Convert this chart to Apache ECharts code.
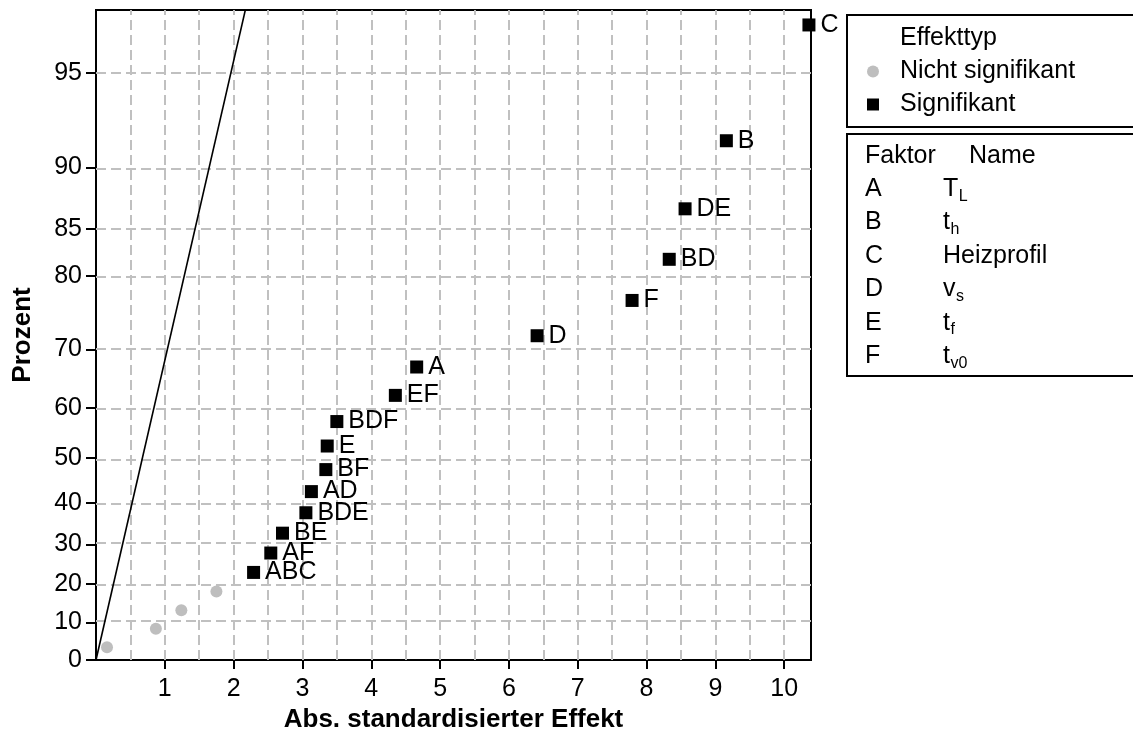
<!DOCTYPE html>
<html>
<head>
<meta charset="utf-8">
<script src="https://cdn.jsdelivr.net/npm/echarts@6/dist/echarts.min.js"></script>
<style>
  html, body { margin: 0; padding: 0; background: #fff; }
  #chart { width: 1133px; height: 731px; }
</style>
</head>
<body>
<div id="chart"></div>
<script>
// Half-normal plot of the standardized effects (absolute values)

// Significant terms
const termNames    = ['ABC', 'AF', 'BE', 'BDE', 'AD', 'BF', 'E', 'BDF', 'EF', 'A', 'D', 'F', 'BD', 'DE', 'B', 'C'];
const termEffects  = [2.29, 2.54, 2.71, 3.05, 3.13, 3.34, 3.36, 3.50, 4.35, 4.66, 6.41, 7.79, 8.33, 8.56, 9.16, 10.36];
const termPercents = [23.0, 27.9, 32.8, 37.7, 42.6, 47.5, 52.5, 57.4, 62.3, 67.2, 72.1, 77.0, 81.9, 86.8, 91.7, 96.6];

// Non-significant terms
const minorEffects  = [0.16, 0.87, 1.24, 1.75];
const minorPercents = [3.4, 8.3, 13.2, 18.1];

// Reference line (effect = half-normal score), drawn between these effect values
const lineEffects = [0, 2.3];

// Axis ticks
const yTickPercents = [0, 10, 20, 30, 40, 50, 60, 70, 80, 85, 90, 95];
const yTickLabels   = ['0', '10', '20', '30', '40', '50', '60', '70', '80', '85', '90', '95'];
const yGridPercents = [10, 20, 30, 40, 50, 60, 70, 80, 85, 90, 95];
const xTickValues   = [1, 2, 3, 4, 5, 6, 7, 8, 9, 10];
const xGridValues   = [0.5, 1, 1.5, 2, 2.5, 3, 3.5, 4, 4.5, 5, 5.5, 6, 6.5, 7, 7.5, 8, 8.5, 9, 9.5, 10];

// Factor table
const factorLetters = ['A', 'B', 'C', 'D', 'E', 'F'];
const factorNames   = [['T', 'L'], ['t', 'h'], ['Heizprofil', ''], ['v', 's'], ['t', 'f'], ['t', 'v0']];

const FONT = '"Liberation Sans", Arial, Helvetica, sans-serif';

// Inverse standard normal CDF (Acklam)
function normInv(p) {
  const a = [-3.969683028665376e+01, 2.209460984245205e+02, -2.759285104469687e+02, 1.383577518672690e+02, -3.066479806614716e+01, 2.506628277459239e+00];
  const b = [-5.447609879822406e+01, 1.615858368580409e+02, -1.556989798598866e+02, 6.680131188771972e+01, -1.328068155288572e+01];
  const c = [-7.784894002430293e-03, -3.223964580411365e-01, -2.400758277161838e+00, -2.549732539343734e+00, 4.374664141464968e+00, 2.938163982698783e+00];
  const d = [7.784695709041462e-03, 3.224671290700398e-01, 2.445134137142996e+00, 3.754408661907416e+00];
  const pl = 0.02425, ph = 1 - pl;
  let q, r;
  if (p < pl) {
    q = Math.sqrt(-2 * Math.log(p));
    return (((((c[0]*q+c[1])*q+c[2])*q+c[3])*q+c[4])*q+c[5]) / ((((d[0]*q+d[1])*q+d[2])*q+d[3])*q+1);
  }
  if (p <= ph) {
    q = p - 0.5; r = q * q;
    return (((((a[0]*r+a[1])*r+a[2])*r+a[3])*r+a[4])*r+a[5])*q / (((((b[0]*r+b[1])*r+b[2])*r+b[3])*r+b[4])*r+1);
  }
  q = Math.sqrt(-2 * Math.log(1 - p));
  return -(((((c[0]*q+c[1])*q+c[2])*q+c[3])*q+c[4])*q+c[5]) / ((((d[0]*q+d[1])*q+d[2])*q+d[3])*q+1);
}
// Percent -> half-normal score (the y scale of the plot)
function hnScore(pct) { return pct <= 0 ? 0 : normInv(0.5 + pct / 200); }

const yTickScores = yTickPercents.map(hnScore);
function yLabelFor(v) {
  for (let i = 0; i < yTickScores.length; i++) {
    if (Math.abs(yTickScores[i] - v) < 1e-6) return yTickLabels[i];
  }
  return '';
}

const measureCtx = document.createElement('canvas').getContext('2d');
function textWidth(str, size) {
  measureCtx.font = size + 'px "Liberation Sans", Arial, sans-serif';
  return measureCtx.measureText(str).width;
}

const gridStyle = { type: [10, 5], color: '#c0c0c0', width: 2 };

// Legend frames and factor table
const graphics = [
  { type: 'rect', shape: { x: 847, y: 15, width: 320, height: 112 }, style: { fill: 'none', stroke: '#000', lineWidth: 2 } },
  { type: 'rect', shape: { x: 847, y: 134, width: 320, height: 242 }, style: { fill: 'none', stroke: '#000', lineWidth: 2 } },
  { type: 'text', x: 900, y: 38, style: { text: 'Effekttyp', font: '25px ' + FONT, fill: '#000', verticalAlign: 'middle' } },
  { type: 'text', x: 865, y: 156, style: { text: 'Faktor', font: '25px ' + FONT, fill: '#000', verticalAlign: 'middle' } },
  { type: 'text', x: 969, y: 156, style: { text: 'Name', font: '25px ' + FONT, fill: '#000', verticalAlign: 'middle' } }
];
factorLetters.forEach(function (letter, i) {
  const rowY = 189.2 + i * 33.4;
  graphics.push({ type: 'text', x: 865, y: rowY, style: { text: letter, font: '25px ' + FONT, fill: '#000', verticalAlign: 'middle' } });
  const main = factorNames[i][0], sub = factorNames[i][1];
  graphics.push({ type: 'text', x: 943, y: rowY, style: { text: main, font: '25px ' + FONT, fill: '#000', verticalAlign: 'middle' } });
  if (sub) {
    graphics.push({ type: 'text', x: 943 + textWidth(main, 25) + 0.5, y: rowY + 7, style: { text: sub, font: '16px ' + FONT, fill: '#000', verticalAlign: 'middle' } });
  }
});

const chart = echarts.init(document.getElementById('chart'), null, { renderer: 'canvas' });

chart.setOption({
  animation: false,
  backgroundColor: '#fff',
  textStyle: { fontFamily: FONT },
  grid: {
    left: 96, right: 322, top: 10, bottom: 71,
    show: true, borderColor: '#000', borderWidth: 2, backgroundColor: 'transparent',
    containLabel: false, outerBoundsMode: 'none'
  },
  legend: {
    orient: 'vertical', left: 862, top: 54,
    itemWidth: 12, itemHeight: 12, itemGap: 8,
    selectedMode: false,
    data: [
      { name: 'Nicht signifikant', icon: 'circle' },
      { name: 'Signifikant', icon: 'rect' }
    ],
    textStyle: { fontSize: 25, lineHeight: 24, color: '#000', fontFamily: FONT, padding: [0, 0, 0, 16] }
  },
  xAxis: {
    type: 'value', min: 0, max: 10.39, interval: 1,
    name: 'Abs. standardisierter Effekt', nameLocation: 'middle', nameGap: 42,
    nameTextStyle: { fontSize: 26, fontWeight: 'bold', color: '#000', fontFamily: FONT },
    axisLine: { show: true, onZero: false, lineStyle: { color: '#000', width: 2 } },
    axisTick: { show: true, length: 9, customValues: xTickValues, lineStyle: { color: '#000', width: 2 } },
    axisLabel: { customValues: xTickValues, margin: 17, fontSize: 25, color: '#000', fontFamily: FONT },
    splitLine: { show: false }
  },
  yAxis: {
    type: 'value', min: 0, max: 2.17,
    name: 'Prozent', nameLocation: 'middle', nameGap: 60, nameRotate: 90,
    nameTextStyle: { fontSize: 26, fontWeight: 'bold', color: '#000', fontFamily: FONT },
    axisLine: { show: true, onZero: false, lineStyle: { color: '#000', width: 2 } },
    axisTick: { show: true, length: 10, customValues: yTickScores, lineStyle: { color: '#000', width: 2 } },
    axisLabel: { customValues: yTickScores, margin: 14, fontSize: 25, color: '#000', fontFamily: FONT, formatter: yLabelFor },
    splitLine: { show: false }
  },
  graphic: graphics,
  series: [
    {
      name: 'Referenz',
      type: 'line',
      z: 3,
      silent: true,
      clip: true,
      symbol: 'none',
      lineStyle: { color: '#000', width: 1.6 },
      data: lineEffects.map(function (e) { return [e, e]; }),
      markLine: {
        z: 1,
        silent: true,
        animation: false,
        symbol: ['none', 'none'],
        label: { show: false },
        lineStyle: gridStyle,
        emphasis: { disabled: true },
        data: xGridValues.map(function (v) { return { xAxis: v }; })
          .concat(yGridPercents.map(function (p) { return { yAxis: hnScore(p) }; }))
      }
    },
    {
      name: 'Nicht signifikant',
      type: 'scatter',
      z: 4,
      symbol: 'circle',
      symbolSize: 12,
      itemStyle: { color: '#bebebe', opacity: 1 },
      data: minorEffects.map(function (e, i) { return [e, hnScore(minorPercents[i])]; })
    },
    {
      name: 'Signifikant',
      type: 'scatter',
      z: 4,
      symbol: 'rect',
      symbolSize: 13,
      itemStyle: { color: '#000', opacity: 1 },
      label: { show: true, position: 'right', distance: 5, formatter: '{b}', fontSize: 25, color: '#000', fontFamily: FONT },
      data: termEffects.map(function (e, i) {
        return { name: termNames[i], value: [e, hnScore(termPercents[i])] };
      })
    }
  ]
});
</script>
</body>
</html>
